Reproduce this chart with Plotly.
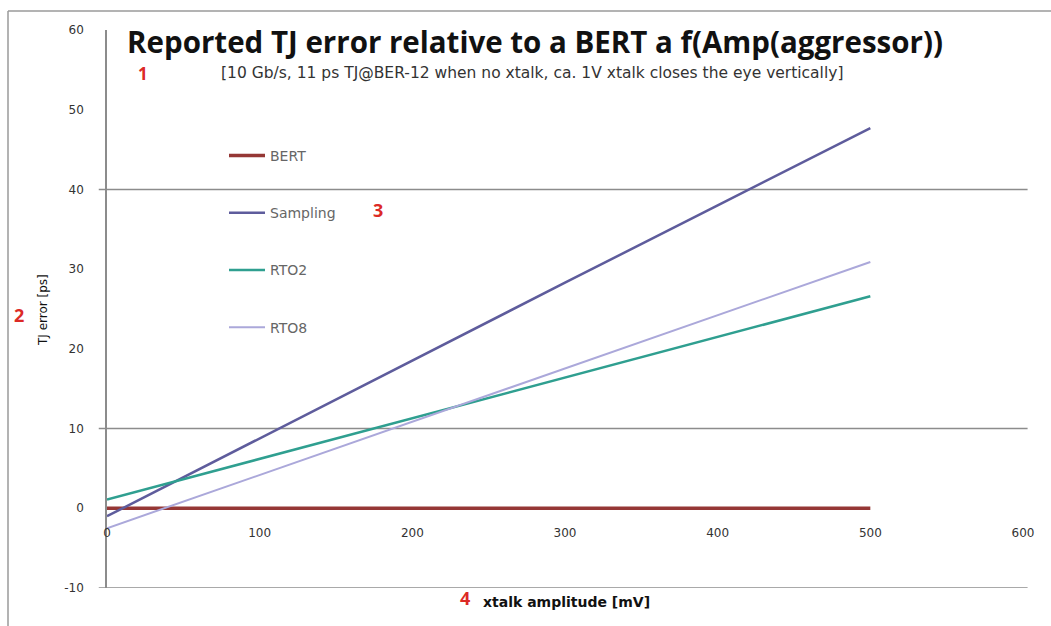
import plotly.graph_objects as go

# Crosstalk amplitude of the aggressor (mV)
X_MV = [0, 100, 200, 300, 400, 500]

# Reported TJ error relative to the BERT (ps)
BERT = [0, 0, 0, 0, 0, 0]
SAMPLING = [-1.0, 8.8, 18.5, 28.3, 38.0, 47.7]
RTO2 = [1.1, 6.2, 11.3, 16.4, 21.5, 26.6]
RTO8 = [-2.5, 4.2, 10.9, 17.5, 24.2, 30.9]

SERIES_NAMES = ["BERT", "Sampling", "RTO2", "RTO8"]
SERIES_COLORS = ["#953735", "#5e5c9c", "#2f9f90", "#aba8da"]
SERIES_WIDTHS = [3.5, 2.5, 2.5, 2.0]

X_TICKS = [0, 100, 200, 300, 400, 500, 600]
Y_TICKS = [-10, 0, 10, 20, 30, 40, 50, 60]
Y_TICK_TEXT = ["-10", "0", "10", "20", "30", "40", "50", "60"]
GRID_LEVELS = [-10, 10, 40]

TITLE = "Reported TJ error relative to a BERT a f(Amp(aggressor))"
SUBTITLE = "[10 Gb/s, 11 ps TJ@BER-12 when no xtalk, ca. 1V xtalk closes the eye vertically]"

W, H = 1051, 626
ML, MR, MT, MB = 107, 28, 30, 38
PW, PH = W - ML - MR, H - MT - MB


def px_x(px):
    return (px - ML) / PW


def px_y(py):
    return (H - MB - py) / PH


fig = go.Figure()
for name, ys, color, width in zip(
    SERIES_NAMES, [BERT, SAMPLING, RTO2, RTO8], SERIES_COLORS, SERIES_WIDTHS
):
    fig.add_trace(
        go.Scatter(
            x=X_MV,
            y=ys,
            mode="lines",
            name=name,
            legendgroup=name,
            line=dict(color=color, width=width),
        )
    )

title_family = "'Open Sans', sans-serif"
text_family = "'DejaVu Sans', sans-serif"
axis_color = "#8c8c8c"

shapes = []
for level in GRID_LEVELS:
    shapes.append(
        dict(
            type="line", xref="paper", yref="y",
            x0=-0.009, x1=1.005, y0=level, y1=level,
            line=dict(color=axis_color, width=1.5), layer="below",
        )
    )
# outer frame of the chart area
shapes.append(dict(type="line", xref="paper", yref="paper",
                   x0=px_x(8), x1=px_x(W + 5), y0=px_y(11), y1=px_y(11),
                   line=dict(color="#9a9a9a", width=1.5)))
shapes.append(dict(type="line", xref="paper", yref="paper",
                   x0=px_x(8), x1=px_x(8), y0=px_y(11), y1=px_y(H + 5),
                   line=dict(color="#9a9a9a", width=1.5)))

red = "#dc2a26"


def note(text, x, y, size, color, family=text_family, angle=0):
    return dict(text=text, x=px_x(x), y=px_y(y), xref="paper", yref="paper",
                xanchor="center", yanchor="middle", textangle=angle,
                showarrow=False, font=dict(family=family, size=size, color=color))


annotations = [
    note(SUBTITLE, 532, 73, 15.5, "#333333"),
    note("TJ error [ps]", 43, 310, 12, "#111111", angle=-90),
    note("<b>xtalk amplitude [mV]</b>", 566, 602, 14, "#111111"),
    note("<b>1</b>", 143, 73, 17, red, family=title_family),
    note("<b>2</b>", 19, 315, 18, red, family=title_family),
    note("<b>3</b>", 378, 210, 18, red, family=title_family),
    note("<b>4</b>", 465, 598, 18, red, family=title_family),
]

fig.update_layout(
    width=W,
    height=H,
    margin=dict(l=ML, r=MR, t=MT, b=MB),
    paper_bgcolor="white",
    plot_bgcolor="white",
    title=dict(
        text="<b>" + TITLE + "</b>",
        x=535 / W, y=1 - 43 / H, xanchor="center", yanchor="middle",
        font=dict(family=title_family, size=29.5, color="#111111"),
    ),
    xaxis=dict(
        range=[0, 600],
        tickvals=X_TICKS,
        showgrid=False,
        zeroline=False,
        showline=False,
        ticks="",
        anchor="free",
        position=10 / 70,
        ticklabelstandoff=16,
        tickfont=dict(family=text_family, size=12, color="#333333"),
    ),
    yaxis=dict(
        range=[-10, 60],
        tickvals=Y_TICKS,
        ticktext=Y_TICK_TEXT,
        showgrid=False,
        zeroline=False,
        showline=True,
        linecolor=axis_color,
        linewidth=1.5,
        ticks="",
        ticklabelstandoff=19,
        tickfont=dict(family=text_family, size=12, color="#333333"),
    ),
    showlegend=True,
    legend=dict(
        x=px_x(224), y=px_y(140), xanchor="left", yanchor="top",
        bgcolor="rgba(0,0,0,0)",
        tracegroupgap=36,
        itemwidth=36,
        font=dict(family=text_family, size=14, color="#666666"),
    ),
    shapes=shapes,
    annotations=annotations,
)

fig.write_html("out.html")
